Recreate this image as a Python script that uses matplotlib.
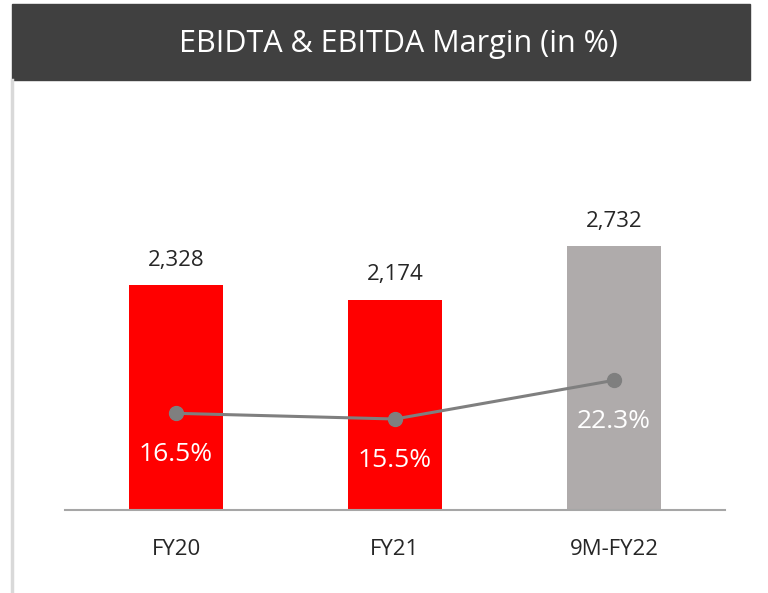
import matplotlib.pyplot as plt
from matplotlib.patches import Rectangle
from matplotlib.lines import Line2D

plt.rcParams['font.family'] = ['Open Sans', 'DejaVu Sans']

# data
categories = ["FY20", "FY21", "9M-FY22"]
ebitda = [2328, 2174, 2732]
ebitda_labels = ["2,328", "2,174", "2,732"]
margin = [16.5, 15.5, 22.3]
bar_colors = ["#FF0000", "#FF0000", "#AFABAB"]

fig = plt.figure(figsize=(7.68, 5.93), dpi=100)

# title bar
fig.patches.append(Rectangle((12 / 768, 1 - 80 / 593), 738 / 768, 76 / 593,
                             transform=fig.transFigure, color="#404040", zorder=0))
fig.text(398 / 768, 1 - 44 / 593, "EBIDTA & EBITDA Margin (in %)", color="white",
         fontsize=22, ha="center", va="center")
# left border
fig.lines.append(Line2D([12 / 768, 12 / 768], [0, 1 - 80 / 593], transform=fig.transFigure,
                        color="#D9D9D9", linewidth=2.5))

ax = fig.add_axes([65 / 768, 1 - 510 / 593, 660 / 768, 360 / 593])
x = range(len(categories))
ax.bar(x, ebitda, width=0.425, color=bar_colors, zorder=2)
ax.set_xlim(-0.507, 2.507)
ax.set_ylim(0, 3726)
for i, v in enumerate(ebitda):
    ax.text(i, v + 150, ebitda_labels[i], ha="center", va="bottom", fontsize=16, color="#262626")

ax.set_xticks(list(x))
ax.set_xticklabels(categories, fontsize=16, color="#262626")
ax.tick_params(axis="x", length=0, pad=21)
ax.set_yticks([])
for s in ["top", "right", "left"]:
    ax.spines[s].set_visible(False)
ax.spines["bottom"].set_color("#A6A6A6")
ax.spines["bottom"].set_linewidth(1.5)
ax.patch.set_alpha(0)

ax2 = ax.twinx()
ax2.plot(list(x), margin, color="#7F7F7F", linewidth=2.2, marker="o", markersize=10, zorder=3)
ax2.set_ylim(-0.5, 62.8)
ax2.set_yticks([])
for s in ax2.spines.values():
    s.set_visible(False)
for i, v in enumerate(margin):
    ax2.text(i, v - 7.3, f"{v}%", ha="center", va="center", fontsize=19, color="white")

fig.savefig("out.png", dpi=100)
